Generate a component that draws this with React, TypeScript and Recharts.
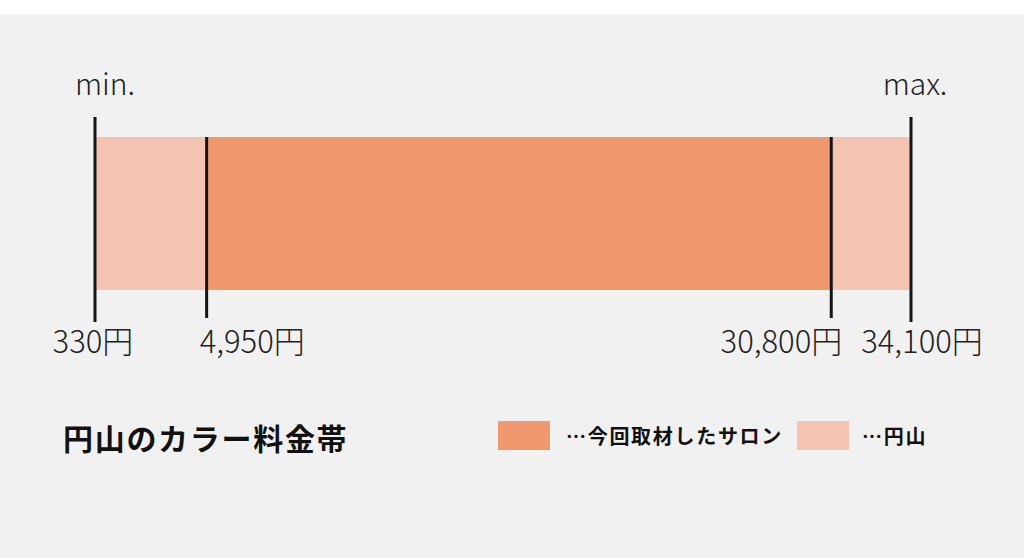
import { BarChart, Bar, XAxis, YAxis, ReferenceLine } from "recharts";

const CATEGORIES = ["円山"];
const MARUYAMA_RANGE = [330, 34100];
const SALON_RANGE = [4950, 30800];
const PRICE_POINTS = [330, 4950, 30800, 34100];
const PRICE_LABELS = ["330円", "4,950円", "30,800円", "34,100円"];
const END_LABELS = ["min.", "", "", "max."];
const SERIES_NAMES = ["…今回取材したサロン", "…円山"];
const TITLE = "円山のカラー料金帯";

const FONT = "'Noto Sans CJK JP', 'Noto Sans', sans-serif";
const COLORS = { salon: "#f0996f", maruyama: "#f5c3b1", bg: "#f2f1f1", ink: "#141414" };

// per-marker label placement (reference puts each price label a bit differently)
const MARKER_STYLE = [
  { outer: true, anchor: "middle", dx: -2, topDx: 10 },
  { outer: false, anchor: "start", dx: -7, topDx: 0 },
  { outer: false, anchor: "end", dx: 11, topDx: 0 },
  { outer: true, anchor: "middle", dx: 11, topDx: 4 },
];

const data = CATEGORIES.map((name) => ({
  name,
  maruyama: MARUYAMA_RANGE,
  salon: SALON_RANGE,
}));

function markerShape(i: number) {
  return (props: any) => {
    const st = MARKER_STYLE[i];
    const top = Math.min(props.y1, props.y2);
    const bottom = Math.max(props.y1, props.y2);
    const x = props.x1;
    const ya = st.outer ? top : top + 20;
    const yb = st.outer ? bottom + 12 : bottom + 8;
    return (
      <g>
        <line x1={x} x2={x} y1={ya} y2={yb} stroke={COLORS.ink} strokeWidth={3} />
        {END_LABELS[i] && (
          <text
            x={x + st.topDx}
            y={top - 22}
            textAnchor="middle"
            fontFamily={FONT}
            fontSize={30}
            fontWeight={300}
            fill="#222"
          >
            {END_LABELS[i]}
          </text>
        )}
        <text
          x={x + st.dx}
          y={bottom + 43}
          textAnchor={st.anchor}
          fontFamily={FONT}
          fontSize={31}
          fontWeight={300}
          fill="#222"
        >
          {PRICE_LABELS[i]}
        </text>
      </g>
    );
  };
}

export default function App() {
  const legend = [
    { name: SERIES_NAMES[0], color: COLORS.salon, left: 498, textLeft: 566 },
    { name: SERIES_NAMES[1], color: COLORS.maruyama, left: 797, textLeft: 862 },
  ];
  return (
    <div
      style={{
        position: "absolute",
        left: 0,
        top: 0,
        width: 1024,
        height: 558,
        background: "#fff",
        overflow: "hidden",
        fontFamily: FONT,
      }}
    >
      <div
        style={{
          position: "absolute",
          left: 0,
          top: 14,
          width: 1024,
          height: 544,
          background: COLORS.bg,
        }}
      />
      <div style={{ position: "absolute", left: 0, top: 0 }}>
        <BarChart
          width={1024}
          height={558}
          data={data}
          layout="vertical"
          margin={{ top: 117, right: 113, bottom: 248, left: 95 }}
        >
          <XAxis type="number" domain={[MARUYAMA_RANGE[0], MARUYAMA_RANGE[1]]} hide />
          <YAxis yAxisId="a" type="category" dataKey="name" hide />
          <YAxis yAxisId="b" type="category" dataKey="name" hide />
          <Bar
            yAxisId="a"
            dataKey="maruyama"
            name={SERIES_NAMES[1]}
            fill={COLORS.maruyama}
            barSize={153}
            isAnimationActive={false}
          />
          <Bar
            yAxisId="b"
            dataKey="salon"
            name={SERIES_NAMES[0]}
            fill={COLORS.salon}
            barSize={153}
            isAnimationActive={false}
          />
          {PRICE_POINTS.map((v, i) => (
            <ReferenceLine
              key={v}
              x={v}
              yAxisId="a"
              ifOverflow="visible"
              shape={markerShape(i)}
            />
          ))}
        </BarChart>
      </div>
      <div
        style={{
          position: "absolute",
          left: 63,
          top: 418,
          fontSize: 30,
          fontWeight: 700,
          letterSpacing: 1.7,
          lineHeight: "38px",
          color: "#111",
          whiteSpace: "nowrap",
        }}
      >
        {TITLE}
      </div>
      {legend.map((l) => (
        <div key={l.name}>
          <div
            style={{
              position: "absolute",
              left: l.left,
              top: 421,
              width: 52,
              height: 29,
              background: l.color,
            }}
          />
          <div
            style={{
              position: "absolute",
              left: l.textLeft,
              top: 421,
              fontSize: 20,
              fontWeight: 700,
              letterSpacing: 1.7,
              lineHeight: "29px",
              color: "#111",
              whiteSpace: "nowrap",
            }}
          >
            {l.name}
          </div>
        </div>
      ))}
    </div>
  );
}
